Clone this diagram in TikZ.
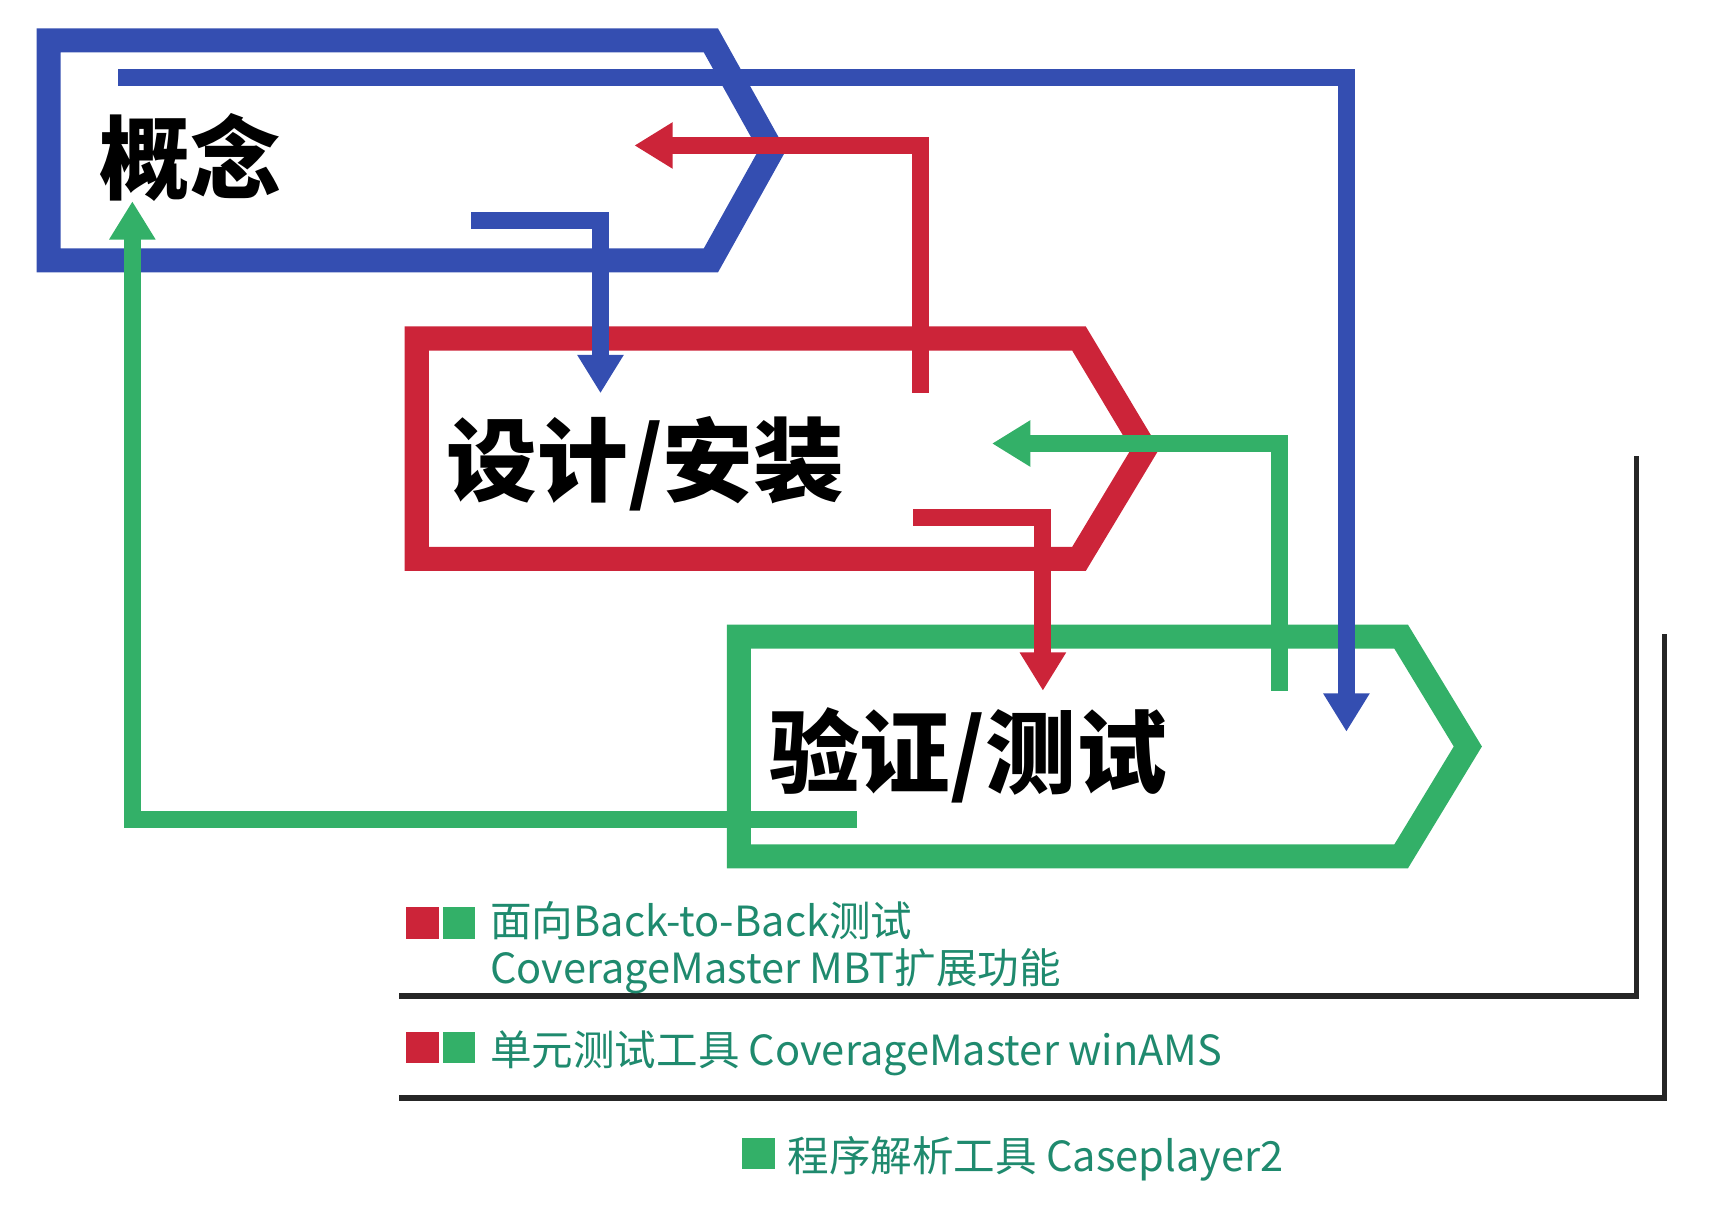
\documentclass[tikz,border=0pt]{standalone}
\usepackage{fontspec}
\newfontfamily\cjk{Noto Sans CJK SC}
\usetikzlibrary{arrows.meta}
\definecolor{cblue}{RGB}{52,78,177}
\definecolor{cred}{RGB}{204,36,57}
\definecolor{cgreen}{RGB}{51,176,104}
\definecolor{cteal}{RGB}{31,138,110}
\definecolor{cdark}{RGB}{38,38,38}
\begin{document}
\begin{tikzpicture}[x=1pt,y=-1pt,
  phase/.style={line width=22pt, line join=miter, miter limit=10},
  flow/.style={line width=15.5pt, line join=miter, -{Triangle[length=35pt,width=40pt]}},
  title/.style={font=\cjk\bfseries\fontsize{83}{83}\selectfont, anchor=base west, inner sep=0pt},
  legend/.style={font=\cjk\fontsize{38}{41}\selectfont, text=cteal, anchor=base west, inner sep=0pt},
  bracket/.style={line width=5pt, cdark},
  swatch/.style={minimum width=30pt, minimum height=29pt, inner sep=0pt, anchor=north west}]
\useasboundingbox (0,0) rectangle (1568,1121);

% phase boxes
\draw[phase, cblue]  (44.5,37) -- (650,37) -- (706,137.5) -- (650,238) -- (44.5,238) -- cycle;
\draw[phase, cred]   (381,309.5) -- (986.5,309.5) -- (1047,410.5) -- (986.5,511) -- (381,511) -- cycle;
\draw[phase, cgreen] (675.5,582) -- (1281,582) -- (1342,682.5) -- (1281,783) -- (675.5,783) -- cycle;

% titles
\node[title] (concept) at (91,176) {概念};
\node[title] (design) at (408,452) {设计/安装};
\node[title] (verify) at (703,719) {验证/测试};

% connector points
\coordinate (b1s) at (431,201.5);  \coordinate (b1k) at (549,201.5);  \coordinate (b1e) at (549,359.5);
\coordinate (b2s) at (108,70.5);   \coordinate (b2k) at (1231,70.5);  \coordinate (b2e) at (1231,669);
\coordinate (r1s) at (842,359);    \coordinate (r1k) at (842,133);    \coordinate (r1e) at (580,133);
\coordinate (r2s) at (835,473.5);  \coordinate (r2k) at (953.5,473.5);\coordinate (r2e) at (953.5,631.5);
\coordinate (g1s) at (1169.5,631.5);\coordinate (g1k) at (1169.5,405.5);\coordinate (g1e) at (907,405.5);
\coordinate (g2s) at (783.5,749);  \coordinate (g2k) at (121,749);    \coordinate (g2e) at (121,184);

\draw[flow, cblue]  (b1s) -- (b1k) -- (b1e);
\draw[flow, cblue]  (b2s) -- (b2k) -- (b2e);
\draw[flow, cred]   (r1s) -- (r1k) -- (r1e);
\draw[flow, cred]   (r2s) -- (r2k) -- (r2e);
\draw[flow, cgreen] (g1s) -- (g1k) -- (g1e);
\draw[flow, cgreen] (g2s) -- (g2k) -- (g2e);

% legend brackets
\coordinate (k1a) at (365,910.5); \coordinate (k1b) at (1496,910.5); \coordinate (k1c) at (1496,416.5);
\coordinate (k2a) at (365,1004);  \coordinate (k2b) at (1522,1004);  \coordinate (k2c) at (1522,580);
\draw[bracket] (k1a) -- (k1b) -- (k1c);
\draw[bracket] (k2a) -- (k2b) -- (k2c);

% legend swatches
\node[swatch, fill=cred]   (sr1) at (371,829.5) {};
\node[swatch, fill=cgreen] (sg1) at (404.5,829.5) {};
\node[swatch, fill=cred]   (sr2) at (371,943) {};
\node[swatch, fill=cgreen] (sg2) at (404.5,943) {};
\node[swatch, fill=cgreen] (sg3) at (678.5,1040) {};

% legend texts
\node[legend] (t1a) at (448,856) {面向Back-to-Back测试};
\node[legend] (t1b) at (448,899) {CoverageMaster MBT扩展功能};
\node[legend] (t2) at (448,974) {单元测试工具 CoverageMaster winAMS};
\node[legend] (t3) at (720,1071) {程序解析工具 Caseplayer2};
\end{tikzpicture}
\end{document}
